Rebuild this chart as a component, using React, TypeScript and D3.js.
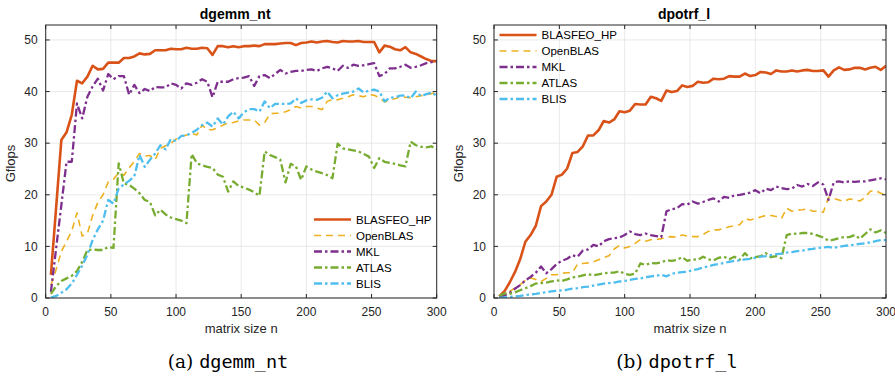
import React from "react";
import * as d3 from "d3";

// Matrix sizes n (shared x values for every series)
const sizes = [
  4, 8, 12, 16, 20, 24, 28, 32, 36, 40,
  44, 48, 52, 56, 60, 64, 68, 72, 76, 80,
  84, 88, 92, 96, 100, 104, 108, 112, 116, 120,
  124, 128, 132, 136, 140, 144, 148, 152, 156, 160,
  164, 168, 172, 176, 180, 184, 188, 192, 196, 200,
  204, 208, 212, 216, 220, 224, 228, 232, 236, 240,
  244, 248, 252, 256, 260, 264, 268, 272, 276, 280,
  284, 288, 292, 296, 300,
];

const seriesNames = ["BLASFEO_HP", "OpenBLAS", "MKL", "ATLAS", "BLIS"];

// dgemm_nt, Gflops
const gemmBlasfeo = [
  4.5, 17.5, 30.6, 32.1, 35.5, 42.1, 41.6, 42.9, 45.0, 44.3,
  44.4, 45.6, 45.6, 45.6, 46.5, 46.5, 46.8, 47.4, 47.2, 47.3,
  48.0, 48.0, 48.0, 48.3, 48.2, 48.2, 48.5, 48.3, 48.3, 48.5,
  48.4, 47.1, 48.8, 48.8, 48.6, 48.8, 48.6, 48.8, 48.8, 48.9,
  48.8, 49.2, 49.2, 49.2, 49.3, 49.4, 49.4, 49.0, 49.4, 49.5,
  49.7, 49.5, 49.7, 49.8, 49.6, 49.5, 49.8, 49.7, 49.7, 49.8,
  49.6, 49.6, 49.6, 47.6, 48.9, 48.7, 48.2, 48.0, 48.6, 47.6,
  47.3, 46.8, 46.3, 45.9, 45.9,
];
const gemmOpenblas = [
  2.5, 5.5, 9.0, 11.0, 13.0, 16.5, 12.0, 12.5, 16.0, 18.5,
  20.0, 22.5, 23.0, 24.3, 23.8, 25.2, 26.5, 28.0, 27.5, 27.6,
  26.8, 29.0, 29.5, 30.0, 30.8, 31.3, 31.6, 31.9, 31.6, 33.5,
  32.6, 32.6, 33.0, 33.5, 33.9, 34.0, 34.3, 34.5, 34.5, 34.5,
  33.5, 34.0, 35.7, 35.8, 35.8, 36.1, 36.5, 37.1, 36.8, 37.1,
  37.1, 36.8, 36.5, 38.1, 38.5, 38.4, 38.7, 39.0, 39.4, 39.2,
  39.0, 39.4, 39.3, 38.8, 38.0, 38.4, 38.6, 39.0, 38.9, 38.8,
  39.0, 39.2, 39.4, 39.6, 39.8,
];
const gemmMkl = [
  1.2, 9.6, 18.0, 26.4, 26.4, 37.7, 34.8, 39.0, 41.0, 42.5,
  40.2, 43.4, 42.4, 43.0, 43.0, 39.4, 41.3, 39.7, 40.5, 40.1,
  40.9, 40.8, 40.8, 41.6, 41.3, 40.6, 41.6, 41.3, 41.7, 42.4,
  41.9, 38.9, 41.9, 41.9, 41.9, 42.4, 42.6, 42.7, 43.0, 41.1,
  43.0, 43.2, 42.6, 43.4, 44.2, 43.5, 43.8, 44.0, 44.0, 44.2,
  44.3, 44.0, 44.5, 44.8, 44.5, 44.0, 45.0, 44.6, 45.2, 45.0,
  45.1, 45.3, 45.5, 43.0, 43.4, 44.5, 44.5, 44.8, 45.2, 44.6,
  44.8, 45.1, 45.5, 45.7, 45.9,
];
const gemmAtlas = [
  0.8, 2.3, 3.3, 3.8, 4.3, 5.2, 7.0, 9.3, 9.4, 9.3,
  9.3, 9.9, 9.7, 26.1, 22.2, 21.9, 21.2, 20.3, 19.0, 18.6,
  16.0, 17.1, 16.2, 15.6, 15.3, 15.0, 14.5, 27.9, 26.1, 25.7,
  25.4, 25.2, 23.9, 23.5, 20.6, 22.6, 21.7, 21.4, 21.0, 20.5,
  19.8, 28.4, 27.7, 27.3, 26.8, 22.4, 26.0, 25.5, 22.9, 25.5,
  24.9, 24.5, 24.2, 23.8, 23.2, 29.9, 29.0, 28.8, 28.6, 28.4,
  27.9, 27.4, 25.2, 27.1, 26.4, 26.2, 26.0, 25.7, 25.5, 30.3,
  29.6, 29.3, 29.2, 29.4, 28.8,
];
const gemmBlis = [
  0.1, 0.4, 1.0, 1.7, 2.8, 4.5, 6.3, 8.4, 11.2, 13.3,
  15.0, 19.0, 18.3, 21.2, 22.0, 22.7, 23.6, 27.7, 25.4, 26.8,
  28.0, 29.6, 28.8, 30.8, 30.4, 31.4, 31.5, 32.0, 32.6, 33.5,
  34.0, 33.2, 34.8, 33.6, 35.2, 36.1, 34.8, 36.0, 36.6, 36.6,
  36.1, 38.1, 36.8, 37.6, 37.6, 37.6, 37.7, 38.7, 37.8, 38.3,
  38.5, 38.4, 38.8, 40.0, 38.7, 39.3, 39.6, 39.8, 40.0, 40.6,
  39.8, 40.2, 40.4, 40.0, 38.1, 38.8, 38.9, 39.2, 39.3, 38.7,
  40.0, 39.1, 39.5, 39.8, 39.2,
];

// dpotrf_l, Gflops
const potrfBlasfeo = [
  0.3, 1.3, 3.0, 5.0, 7.5, 10.9, 12.2, 14.0, 17.8, 18.7,
  20.0, 23.5, 23.9, 25.1, 28.1, 28.3, 29.4, 31.5, 31.5, 32.5,
  34.3, 34.0, 34.6, 36.2, 36.0, 36.3, 37.6, 37.5, 37.5, 39.0,
  38.7, 38.2, 40.2, 39.9, 40.1, 41.2, 40.9, 41.1, 41.9, 41.7,
  41.8, 42.5, 42.4, 42.5, 43.0, 42.9, 42.9, 43.5, 43.0, 43.2,
  43.8, 43.7, 43.4, 44.1, 43.9, 43.9, 44.1, 43.9, 44.1, 44.2,
  44.0, 44.0, 44.1, 42.9, 44.1, 44.7, 44.2, 44.3, 44.6, 44.6,
  44.3, 44.6, 44.8, 44.2, 45.0,
];
const potrfOpenblas = [
  0.2, 0.6, 1.3, 1.9, 2.6, 3.4, 3.9, 3.6, 3.2, 3.8,
  4.5, 4.5, 4.8, 4.9, 4.9, 6.6, 6.7, 6.8, 7.0, 7.4,
  7.8, 8.2, 9.5, 10.2, 9.7, 10.0, 10.6, 11.3, 11.0, 11.3,
  11.3, 11.5, 11.8, 11.9, 11.8, 12.2, 12.0, 11.9, 11.9, 12.3,
  12.9, 13.2, 13.2, 13.5, 13.8, 14.0, 14.2, 15.4, 15.1, 15.4,
  15.7, 16.0, 16.0, 15.8, 15.4, 17.4, 16.8, 17.0, 17.1, 17.3,
  16.8, 16.8, 16.6, 19.5, 19.3, 19.0, 18.7, 19.2, 19.0, 18.8,
  19.5, 20.7, 20.8, 20.3, 19.9,
];
const potrfMkl = [
  0.2, 0.5, 1.0, 1.8, 2.5, 3.4, 4.1, 4.9, 6.1, 4.8,
  5.6, 6.6, 7.2, 7.6, 8.3, 8.0, 9.2, 9.4, 10.3, 10.0,
  11.0, 11.4, 11.6, 11.7, 12.2, 12.9, 12.4, 12.2, 12.5, 12.2,
  12.0, 11.8, 16.8, 17.2, 17.4, 18.2, 18.1, 18.7, 18.3, 18.6,
  19.0, 19.3, 18.7, 19.6, 19.4, 19.9, 20.0, 20.2, 20.4, 20.9,
  20.3, 21.2, 20.9, 21.6, 21.3, 21.1, 21.2, 21.9, 21.6, 22.1,
  21.7, 22.4, 22.0, 19.0, 22.4, 22.6, 22.4, 22.6, 22.5, 22.6,
  22.6, 22.8, 23.0, 23.2, 23.0,
];
const potrfAtlas = [
  0.4, 0.9, 0.8, 1.1, 1.5, 1.9, 2.3, 2.8, 2.9, 3.0,
  3.2, 3.4, 3.3, 3.6, 4.0, 4.1, 4.4, 4.6, 4.4, 4.6,
  4.8, 4.9, 4.9, 5.2, 4.7, 4.5, 4.7, 6.7, 6.4, 6.8,
  6.7, 6.9, 7.3, 7.2, 7.4, 7.9, 7.2, 7.5, 7.4, 8.0,
  7.5, 7.3, 7.8, 8.0, 7.5, 8.0, 7.4, 8.7, 7.7, 7.9,
  8.1, 8.7, 7.9, 8.1, 7.7, 12.2, 12.5, 12.4, 12.6, 12.6,
  12.4, 12.1, 11.7, 11.1, 11.3, 11.6, 11.8, 11.8, 12.2, 11.5,
  12.4, 13.3, 12.7, 13.1, 12.6,
];
const potrfBlis = [
  0.0, 0.1, 0.2, 0.3, 0.4, 0.6, 0.7, 0.8, 1.0, 1.1,
  1.3, 1.4, 1.5, 1.6, 1.8, 1.9, 2.1, 2.2, 2.4, 2.6,
  2.8, 2.9, 3.0, 3.2, 3.3, 3.5, 3.7, 3.8, 4.0, 4.2,
  4.3, 4.5, 4.2, 4.7, 4.9, 5.0, 5.1, 5.4, 5.6, 5.9,
  6.1, 6.4, 6.6, 6.8, 7.0, 7.2, 7.3, 7.5, 7.6, 7.8,
  8.0, 8.1, 8.3, 8.5, 8.6, 8.8, 8.9, 9.1, 9.2, 9.4,
  9.5, 9.7, 9.8, 9.9, 9.7, 9.9, 10.1, 10.2, 10.3, 10.5,
  10.6, 10.8, 11.0, 11.2, 11.2,
];

const xTicks = [0, 50, 100, 150, 200, 250, 300];
const yTicks = [0, 10, 20, 30, 40, 50];

type Style = { color: string; width: number; dash: string | null };
const styles: Style[] = [
  { color: "#D95319", width: 2.6, dash: null },
  { color: "#EDB120", width: 1.6, dash: "7,5" },
  { color: "#7E2F8E", width: 2.3, dash: "8,3,2.5,3" },
  { color: "#77AC30", width: 2.3, dash: "8,3,2.5,3" },
  { color: "#4DBEEE", width: 2.3, dash: "8,3,2.5,3" },
];

const TEXT = "#262626";
const SANS = "'Liberation Sans', Arial, Helvetica, sans-serif";

type PanelProps = {
  id: string;
  left: number;
  right: number;
  title: string;
  series: number[][];
  legendX: number;
  legendY: number;
  captionLabel: string;
  captionName: string;
  captionX: number;
};

const TOP = 25;
const BOTTOM = 298;

function Panel(p: PanelProps) {
  const x = d3.scaleLinear().domain([0, 300]).range([p.left, p.right]);
  const y = d3.scaleLinear().domain([0, 52.9]).range([BOTTOM, TOP]);
  const line = d3
    .line<number>()
    .x((_, i) => x(sizes[i]))
    .y((d) => y(d));
  const tick = 4;
  const cx = (p.left + p.right) / 2;
  return (
    <g>
      <defs>
        <clipPath id={p.id}>
          <rect x={p.left} y={TOP} width={p.right - p.left} height={BOTTOM - TOP} />
        </clipPath>
      </defs>
      <rect x={p.left} y={TOP} width={p.right - p.left} height={BOTTOM - TOP} fill="#fff" />
      {/* grid */}
      {xTicks.map((t) => (
        <line key={"gx" + t} x1={x(t)} x2={x(t)} y1={TOP} y2={BOTTOM} stroke="#e3e3e3" strokeWidth={0.8} />
      ))}
      {yTicks.map((t) => (
        <line key={"gy" + t} x1={p.left} x2={p.right} y1={y(t)} y2={y(t)} stroke="#e3e3e3" strokeWidth={0.8} />
      ))}
      {/* series */}
      <g clipPath={`url(#${p.id})`}>
        {p.series.map((s, i) => (
          <path
            key={i}
            d={line(s) || ""}
            fill="none"
            stroke={styles[i].color}
            strokeWidth={styles[i].width}
            strokeDasharray={styles[i].dash || undefined}
            strokeLinejoin="round"
          />
        ))}
      </g>
      {/* box and ticks */}
      <rect x={p.left} y={TOP} width={p.right - p.left} height={BOTTOM - TOP} fill="none" stroke={TEXT} strokeWidth={1} />
      {xTicks.map((t) => (
        <g key={"tx" + t}>
          <line x1={x(t)} x2={x(t)} y1={BOTTOM} y2={BOTTOM - tick} stroke={TEXT} />
          <line x1={x(t)} x2={x(t)} y1={TOP} y2={TOP + tick} stroke={TEXT} />
          <text x={x(t)} y={316} textAnchor="middle" fontSize={12} fill={TEXT} fontFamily={SANS}>
            {t}
          </text>
        </g>
      ))}
      {yTicks.map((t) => (
        <g key={"ty" + t}>
          <line x1={p.left} x2={p.left + tick} y1={y(t)} y2={y(t)} stroke={TEXT} />
          <line x1={p.right} x2={p.right - tick} y1={y(t)} y2={y(t)} stroke={TEXT} />
          <text x={p.left - 8} y={y(t) + 4.3} textAnchor="end" fontSize={12} fill={TEXT} fontFamily={SANS}>
            {t}
          </text>
        </g>
      ))}
      {/* labels */}
      <text x={cx - 6} y={18.5} textAnchor="middle" fontSize={14} fontWeight="bold" fill="#000" fontFamily={SANS}>
        {p.title}
      </text>
      <text x={cx} y={333} textAnchor="middle" fontSize={13} fill={TEXT} fontFamily={SANS}>
        matrix size n
      </text>
      <text
        transform={`translate(${p.left - 31},${(TOP + BOTTOM) / 2 + 2}) rotate(-90)`}
        textAnchor="middle"
        fontSize={13}
        fill={TEXT}
        fontFamily={SANS}
      >
        Gflops
      </text>
      {/* legend */}
      {seriesNames.map((name, i) => {
        const ly = p.legendY + i * 16;
        return (
          <g key={name}>
            <line
              x1={p.legendX}
              x2={p.legendX + 37}
              y1={ly}
              y2={ly}
              stroke={styles[i].color}
              strokeWidth={styles[i].width}
              strokeDasharray={styles[i].dash || undefined}
            />
            <text x={p.legendX + 42} y={ly + 4.2} fontSize={11.5} fill="#000" fontFamily={SANS}>
              {name}
            </text>
          </g>
        );
      })}
      {/* caption */}
      <text x={p.captionX} y={368} textAnchor="middle" fontSize={18.5} fill="#000">
        <tspan fontFamily="'DejaVu Serif', 'Liberation Serif', serif">{p.captionLabel} </tspan>
        <tspan fontFamily="'DejaVu Sans Mono', 'Liberation Mono', monospace">{p.captionName}</tspan>
      </text>
    </g>
  );
}

export default function App() {
  return (
    <svg
      width={895}
      height={377}
      viewBox="0 0 895 377"
      style={{ position: "absolute", left: 0, top: 0, background: "#fff" }}
    >
      <rect width={895} height={377} fill="#fff" />
      <Panel
        id="clipA"
        left={45.7}
        right={436.7}
        title="dgemm_nt"
        series={[gemmBlasfeo, gemmOpenblas, gemmMkl, gemmAtlas, gemmBlis]}
        legendX={314}
        legendY={219.5}
        captionLabel="(a)"
        captionName="dgemm_nt"
        captionX={228}
      />
      <Panel
        id="clipB"
        left={494}
        right={886}
        title="dpotrf_l"
        series={[potrfBlasfeo, potrfOpenblas, potrfMkl, potrfAtlas, potrfBlis]}
        legendX={499.5}
        legendY={35}
        captionLabel="(b)"
        captionName="dpotrf_l"
        captionX={677}
      />
    </svg>
  );
}
